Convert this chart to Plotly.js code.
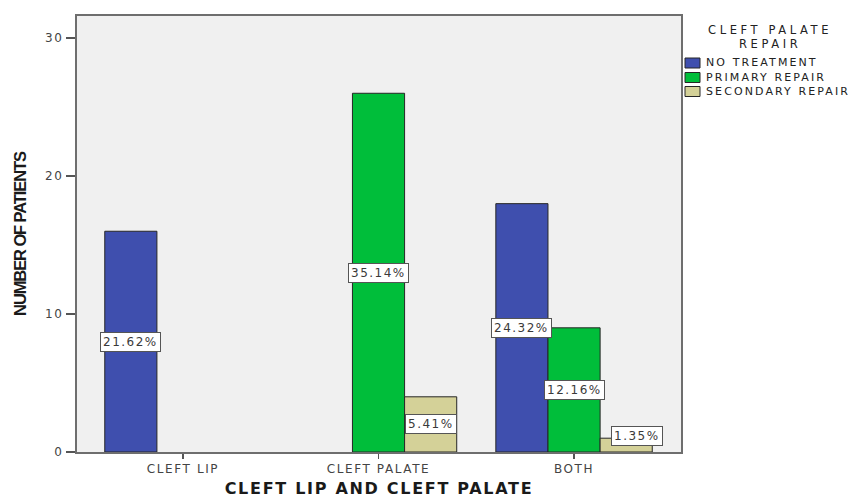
<!DOCTYPE html>
<html>
<head>
<meta charset="utf-8">
<script src="https://cdn.plot.ly/plotly-3.0.1.min.js"></script>
<style>
  html, body { margin: 0; padding: 0; background: #fff; }
  #chart { width: 855px; height: 498px; }
  .xtick text, .ytick text { letter-spacing: 1.6px; }
  .xtitle { letter-spacing: 1.7px; }
  .ytitle { letter-spacing: -1.1px; }
</style>
</head>
<body>
<div id="chart"></div>
<script>
// ---- data ----
const categories = ['CLEFT LIP', 'CLEFT PALATE', 'BOTH'];
const seriesNames = ['NO TREATMENT', 'PRIMARY REPAIR', 'SECONDARY REPAIR'];
const noTreatment = [16, null, 18];
const primaryRepair = [null, 26, 9];
const secondaryRepair = [null, 4, 1];
const noTreatmentPct = ['21.62%', null, '24.32%'];
const primaryRepairPct = [null, '35.14%', '12.16%'];
const secondaryRepairPct = [null, '5.41%', '1.35%'];
const yTicks = [0, 10, 20, 30];

// ---- styling ----
const colors = ['#3f4fae', '#00be3a', '#d4d198'];
const W = 855, H = 498;
const M = { l: 77, r: 174, t: 16, b: 46 };
const PW = W - M.l - M.r, PH = H - M.t - M.b;
const px = x => (x - M.l) / PW;
const py = y => (H - M.b - y) / PH;
const bargap = 0.2;
const barW = (1 - bargap) / 3;

const values = [noTreatment, primaryRepair, secondaryRepair];
const pcts = [noTreatmentPct, primaryRepairPct, secondaryRepairPct];

const traces = values.map((v, k) => ({
  type: 'bar',
  name: seriesNames[k],
  x: categories,
  y: v,
  marker: { color: colors[k], line: { color: '#262626', width: 1 } },
  hoverinfo: 'skip'
}));

const annotations = [];
values.forEach((v, k) => {
  v.forEach((val, i) => {
    if (val === null || pcts[k][i] === null) return;
    let yv = val / 2, xs = 0;
    if (yv < 1.15) { yv = 1.15; xs = 11; }
    annotations.push({
      x: i + (k - 1) * barW, y: yv, xref: 'x', yref: 'y',
      xshift: xs,
      text: '<span style="letter-spacing:1.5px">' + pcts[k][i] + '</span>',
      showarrow: false,
      font: { family: 'DejaVu Sans', size: 12, color: '#3a3a3a' },
      bgcolor: '#ffffff', bordercolor: '#555555', borderwidth: 1, borderpad: 2,
      xanchor: 'center', yanchor: 'middle'
    });
  });
});

// custom legend
const legendTitle = ['CLEFT PALATE', 'REPAIR'];
const legendTitleY = [30, 44];
legendTitle.forEach((t, j) => {
  annotations.push({
    x: px(770), y: py(legendTitleY[j]), xref: 'paper', yref: 'paper',
    text: '<span style="letter-spacing:3.6px">' + t + '</span>',
    showarrow: false, xanchor: 'center', yanchor: 'middle',
    font: { family: 'DejaVu Sans', size: 11.5, color: '#222' }
  });
});
const shapes = [];
const legendRowY = [63, 77.5, 91.5];
seriesNames.forEach((n, k) => {
  shapes.push({
    type: 'rect', xref: 'paper', yref: 'paper',
    x0: px(685), x1: px(700), y0: py(legendRowY[k] + 5), y1: py(legendRowY[k] - 5),
    fillcolor: colors[k], line: { color: '#262626', width: 1 }
  });
  annotations.push({
    x: px(704), y: py(legendRowY[k]), xref: 'paper', yref: 'paper',
    text: '<span style="letter-spacing:2.1px">' + n + '</span>',
    showarrow: false, xanchor: 'left', yanchor: 'middle',
    font: { family: 'DejaVu Sans', size: 11, color: '#222' }
  });
});

const layout = {
  width: W, height: H,
  margin: M,
  paper_bgcolor: '#ffffff',
  plot_bgcolor: '#f0f0f0',
  barmode: 'group',
  bargap: bargap,
  bargroupgap: 0,
  showlegend: false,
  font: { family: 'DejaVu Sans', size: 12, color: '#444' },
  xaxis: {
    type: 'category',
    range: [-0.542, 2.547],
    showgrid: false, zeroline: false,
    showline: true, mirror: true, linecolor: '#6e6e6e', linewidth: 2,
    ticks: 'outside', ticklen: 5, tickwidth: 1.5, tickcolor: '#555',
    tickfont: { family: 'DejaVu Sans', size: 12, color: '#444' },
    automargin: false,
    title: {
      text: 'CLEFT LIP AND CLEFT PALATE',
      font: { family: 'DejaVu Sans', size: 16, color: '#1a1a1a', weight: 'bold' },
      standoff: 14
    }
  },
  yaxis: {
    range: [0, 31.6],
    tickvals: yTicks,
    showgrid: false, zeroline: false,
    showline: true, mirror: true, linecolor: '#6e6e6e', linewidth: 2,
    ticks: 'outside', ticklen: 9, tickwidth: 2, tickcolor: '#555',
    tickfont: { family: 'DejaVu Sans', size: 12, color: '#444' },
    automargin: false,
    title: {
      text: 'NUMBER OF PATIENTS',
      font: { family: 'Liberation Sans, Arial, sans-serif', size: 16.5, color: '#1a1a1a', weight: 'bold' },
      standoff: 14
    }
  },
  annotations: annotations,
  shapes: shapes
};

Plotly.newPlot('chart', traces, layout, { displayModeBar: false, staticPlot: true });
</script>
</body>
</html>
